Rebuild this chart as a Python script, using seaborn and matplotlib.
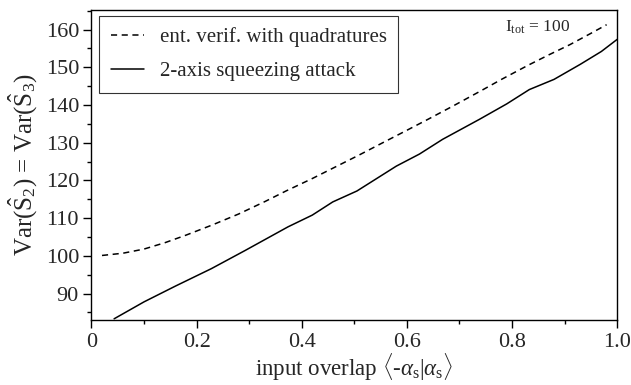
import pandas as pd
import matplotlib.pyplot as plt
import numpy as np
import seaborn as sns
from matplotlib.ticker import MultipleLocator, FixedLocator

# dashed curve: entanglement verification with quadratures
x_ent = [0.02, 0.06, 0.1, 0.14, 0.18, 0.23, 0.28, 0.33, 0.37, 0.42, 0.46, 0.51, 0.55,
         0.6, 0.64, 0.69, 0.74, 0.78, 0.83, 0.87, 0.91, 0.95, 0.98]
y_ent = [100.1, 100.7, 101.8, 103.5, 105.5, 108.2, 111.1, 114.4, 117.2, 120.5, 123.3,
         126.8, 129.7, 133.3, 136.2, 139.9, 143.7, 146.8, 150.5, 153.3, 156.0, 159.0, 161.3]

# solid curve: 2-axis squeezing attack
x_sq = [0.043, 0.1, 0.16, 0.228, 0.292, 0.374, 0.42, 0.459, 0.505, 0.58, 0.624, 0.668,
        0.738, 0.79, 0.833, 0.88, 0.93, 0.97, 1.0]
y_sq = [83.3, 87.8, 92.0, 96.6, 101.4, 107.7, 110.8, 114.3, 117.2, 123.8, 127.0, 130.9,
        136.2, 140.3, 144.1, 146.8, 150.8, 154.2, 157.4]

xticks = [0, 0.2, 0.4, 0.6, 0.8, 1.0]
xticklabels = ['0', '0.2', '0.4', '0.6', '0.8', '1.0']
yticks = [90, 100, 110, 120, 130, 140, 150, 160]

sns.set_style('ticks')
plt.rcParams['font.family'] = ['Liberation Serif', 'DejaVu Serif']
plt.rcParams['mathtext.fontset'] = 'custom'
plt.rcParams['mathtext.rm'] = 'Liberation Serif'
plt.rcParams['mathtext.it'] = 'Liberation Serif:italic'

ent = pd.DataFrame({'x': x_ent, 'y': y_ent})
sq = pd.DataFrame({'x': x_sq, 'y': y_sq})

fig, ax = plt.subplots(figsize=(6.31, 3.85), dpi=100)
sns.lineplot(data=ent, x='x', y='y', ax=ax, color='black', lw=1.1,
             linestyle=(0, (4, 3)), label='ent. verif. with quadratures')
sns.lineplot(data=sq, x='x', y='y', ax=ax, color='black', lw=1.1,
             label='2-axis squeezing attack')

ax.set_xlim(0, 1.0)
ax.set_ylim(82.9, 165.3)
ax.xaxis.set_major_locator(FixedLocator(xticks))
ax.set_xticklabels(xticklabels)
ax.xaxis.set_minor_locator(MultipleLocator(0.1))
ax.yaxis.set_major_locator(FixedLocator(yticks))
ax.yaxis.set_minor_locator(MultipleLocator(5))
ax.tick_params(which='major', direction='out', length=6, width=1, labelsize=16,
               color='black', pad=3)
ax.tick_params(which='minor', direction='out', length=3, width=1, color='black')
for s in ax.spines.values():
    s.set_linewidth(1)
    s.set_color('black')

ax.set_xlabel(r'input overlap $\langle$-$\alpha_\mathrm{s}|\alpha_\mathrm{s}\rangle$',
              fontsize=16.5, labelpad=0)
ax.set_ylabel(r'Var($\hat{\mathrm{S}}_2$) = Var($\hat{\mathrm{S}}_3$)', fontsize=18, labelpad=5)
ax.text(0.786, 160.5, r'I$_\mathrm{tot}$ = 100', fontsize=12.5, va='center')

leg = ax.legend(loc='upper left', fontsize=15, frameon=True, fancybox=False,
                edgecolor='black', handlelength=1.6, handletextpad=0.75,
                borderpad=0.55, labelspacing=0.7, borderaxespad=0,
                bbox_to_anchor=(0.015, 0.98))
leg.get_frame().set_linewidth(0.8)

fig.subplots_adjust(left=0.145, right=0.978, top=0.975, bottom=0.168)
fig.savefig('out.png', dpi=100)
